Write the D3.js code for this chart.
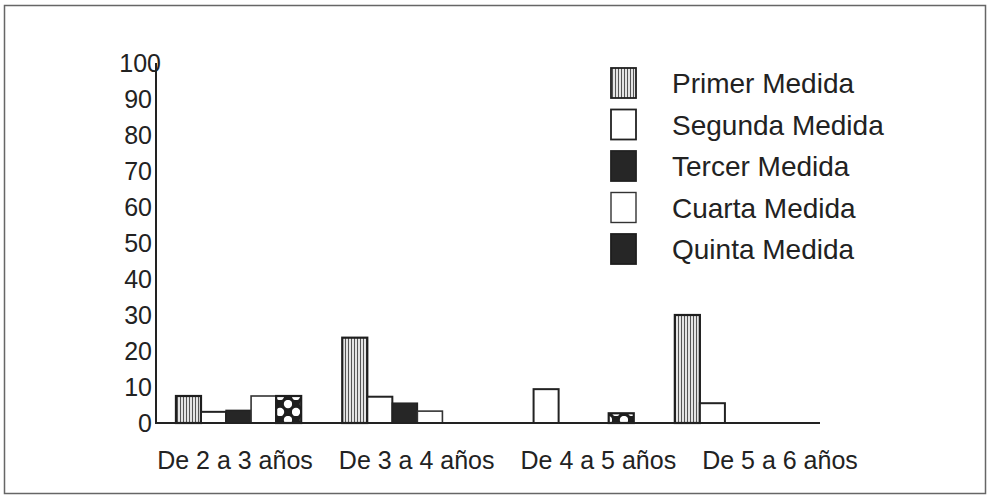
<!DOCTYPE html>
<html><head><meta charset="utf-8">
<script src="https://cdn.jsdelivr.net/npm/d3@7"></script>
<style>body{margin:0;background:#fff}svg{display:block}text{font-family:"Liberation Sans",Arial,sans-serif;fill:#222}</style>
</head><body><div id="chart"></div>
<script>
const categories = ["De 2 a 3 años","De 3 a 4 años","De 4 a 5 años","De 5 a 6 años"];
const seriesNames = ["Primer Medida","Segunda Medida","Tercer Medida","Cuarta Medida","Quinta Medida"];
const primer  = [7.5, 23.7, 0, 30];
const segunda = [3.1, 7.3, 9.4, 5.5];
const tercer  = [3.5, 5.5, 0, 0];
const cuarta  = [7.5, 3.3, 0, 0];
const quinta  = [7.5, 0, 2.7, 0];
const yTicks = [0,10,20,30,40,50,60,70,80,90,100];

const seriesValues = [primer, segunda, tercer, cuarta, quinta];
const W = 989, H = 498;
const svg = d3.select("#chart").append("svg").attr("width", W).attr("height", H);
const defs = svg.append("defs");
const pv = defs.append("pattern").attr("id","vstripe").attr("patternUnits","userSpaceOnUse").attr("width",3).attr("height",6);
pv.append("rect").attr("width",3).attr("height",6).attr("fill","#e4e4e4");
pv.append("rect").attr("x",0).attr("width",1).attr("height",6).attr("fill","#555");
const pc = defs.append("pattern").attr("id","checker").attr("patternUnits","userSpaceOnUse").attr("width",16).attr("height",16).attr("x",4).attr("y",0);
pc.append("rect").attr("width",16).attr("height",16).attr("fill","#1e1e1e");
pc.append("circle").attr("cx",12).attr("cy",4).attr("r",4.2).attr("fill","#fff");
pc.append("circle").attr("cx",4).attr("cy",12).attr("r",4.2).attr("fill","#fff");

const styles = [
  {fill:"url(#vstripe)", stroke:"#1e1e1e", sw:2.2, lfill:"url(#vstripe)"},
  {fill:"#fff", stroke:"#222", sw:2, lfill:"#fff"},
  {fill:"#262626", stroke:"#222", sw:1.5, lfill:"#262626"},
  {fill:"#fff", stroke:"#333", sw:1.6, lfill:"#fff"},
  {fill:"url(#checker)", stroke:"#1e1e1e", sw:2.2, lfill:"#262626"}
];

// frame
svg.append("rect").attr("x",4.5).attr("y",5.5).attr("width",981).attr("height",488)
  .attr("fill","none").attr("stroke","#666").attr("stroke-width",1.5);

const x0 = d3.scaleBand().domain(categories).range([156, 820]).paddingInner(0.247).paddingOuter(0.12);
const x1 = d3.scaleBand().domain(seriesNames).range([0, x0.bandwidth()]);
const y = d3.scaleLinear().domain([0,100]).range([423, 63]);
const xl = d3.scalePoint().domain(categories).range([235, 780]);

// bars
const g = svg.append("g");
categories.forEach((c, ci) => {
  seriesNames.forEach((s, si) => {
    const v = seriesValues[si][ci];
    if (!v) return;
    const st = styles[si];
    g.append("rect")
      .attr("x", x0(c) + x1(s))
      .attr("y", y(v))
      .attr("width", x1.bandwidth())
      .attr("height", y(0) - y(v))
      .attr("fill", st.fill).attr("stroke", st.stroke).attr("stroke-width", st.sw);
  });
});

// axes lines
svg.append("line").attr("x1",156).attr("x2",156).attr("y1",y(100)).attr("y2",y(0)+1)
  .attr("stroke","#222").attr("stroke-width",2);
svg.append("line").attr("x1",155).attr("x2",820).attr("y1",y(0)).attr("y2",y(0))
  .attr("stroke","#222").attr("stroke-width",2);

// y labels
svg.append("g").selectAll("text").data(yTicks).join("text")
  .attr("x", d => d===100?161:152).attr("y", d => y(d)+9)
  .attr("text-anchor","end").attr("font-size",25).text(d => d);

// x labels
svg.append("g").selectAll("text").data(categories).join("text")
  .attr("x", d => xl(d)).attr("y", 469)
  .attr("text-anchor","middle").attr("font-size",25).text(d => d);

// legend
const leg = svg.append("g");
seriesNames.forEach((s, i) => {
  const cy = 83 + i*41.5;
  const st = styles[i];
  leg.append("rect").attr("x",611).attr("y",cy-15).attr("width",25).attr("height",30)
    .attr("fill", st.lfill).attr("stroke", st.stroke).attr("stroke-width", i===3?1.4:1.8);
  leg.append("text").attr("x",672).attr("y",cy+10)
    .attr("font-size",28).text(s);
});
</script></body></html>
